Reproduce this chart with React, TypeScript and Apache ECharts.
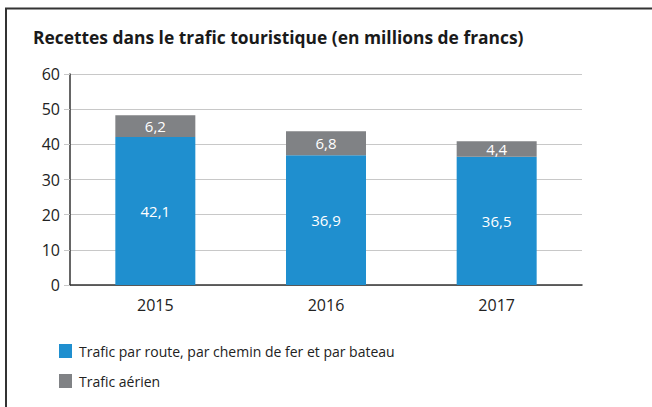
import React, { useEffect, useRef } from "react";
import * as echarts from "echarts";

const categories = ["2015", "2016", "2017"];
const groundValues = [42.1, 36.9, 36.5];
const airValues = [6.2, 6.8, 4.4];
const seriesNames = ["Trafic par route, par chemin de fer et par bateau", "Trafic aérien"];
const titleText = "Recettes dans le trafic touristique (en millions de francs)";

const FONT = "'Open Sans', sans-serif";

export default function App() {
  const ref = useRef<HTMLDivElement>(null);
  useEffect(() => {
    document.body.style.margin = "0";
    const chart = echarts.init(ref.current!, null, { renderer: "svg" });
    const fmt = (p: any) => String(p.value).replace(".", ",");
    chart.setOption({
      animation: false,
      backgroundColor: "#ffffff",
      textStyle: { fontFamily: FONT },
      title: {
        text: titleText,
        left: 28,
        top: 23,
        textStyle: { fontFamily: FONT, fontWeight: "bold", fontSize: 17.4, color: "#1a1a1a" },
      },
      graphic: [
        {
          type: "polyline",
          shape: { points: [[6, 407], [6, 8.5], [652, 8.5]] },
          style: { stroke: "#333333", lineWidth: 2, fill: "none" },
          silent: true,
        },
      ],
      legend: {
        orient: "vertical",
        left: 59,
        top: 344,
        padding: 0,
        itemWidth: 13,
        itemHeight: 14,
        itemGap: 16,
        icon: "rect",
        textStyle: { fontFamily: FONT, fontSize: 14, color: "#222222", padding: [0, 0, 0, 2] },
        data: seriesNames,
      },
      grid: { left: 70, right: 70, top: 74, bottom: 122 },
      xAxis: {
        type: "category",
        data: categories,
        axisLine: { lineStyle: { color: "#333333", width: 1.5 } },
        axisTick: { show: false },
        axisLabel: { fontFamily: FONT, fontSize: 16, color: "#222222", margin: 12 },
      },
      yAxis: {
        type: "value",
        min: 0,
        max: 60,
        interval: 10,
        axisLine: { show: true, lineStyle: { color: "#333333", width: 1.5 } },
        axisTick: { show: true, length: 6, lineStyle: { color: "#c8c8c8" } },
        splitLine: { lineStyle: { color: "#c8c8c8", width: 1.2 } },
        axisLabel: { fontFamily: FONT, fontSize: 16, color: "#222222", margin: 10 },
      },
      series: [
        {
          name: seriesNames[0],
          type: "bar",
          stack: "total",
          data: groundValues,
          barWidth: 80,
          itemStyle: { color: "#1f8fcf" },
          label: { show: true, position: "inside", color: "#ffffff", fontFamily: FONT, fontSize: 15, formatter: fmt },
        },
        {
          name: seriesNames[1],
          type: "bar",
          stack: "total",
          data: airValues,
          barWidth: 80,
          itemStyle: { color: "#808285" },
          label: { show: true, position: "inside", color: "#ffffff", fontFamily: FONT, fontSize: 15, formatter: fmt },
        },
      ],
    });
    return () => chart.dispose();
  }, []);
  return <div ref={ref} style={{ width: 652, height: 407 }} />;
}
